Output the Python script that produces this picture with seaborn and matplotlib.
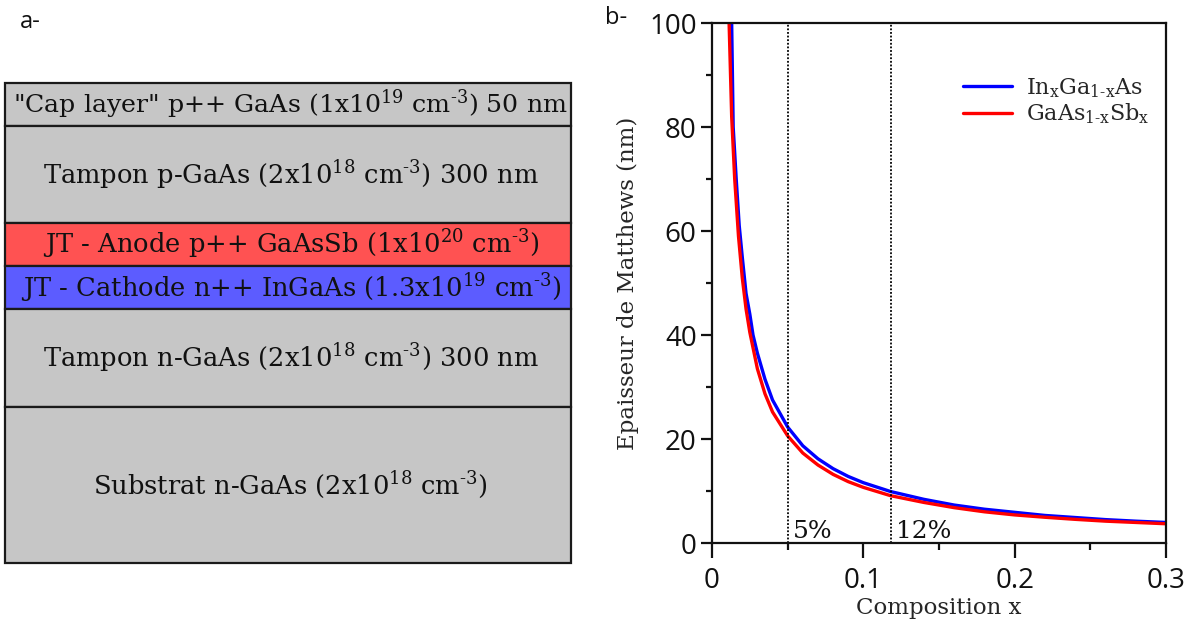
import numpy as np
import pandas as pd
import matplotlib
matplotlib.use("Agg")
import matplotlib.pyplot as plt
import seaborn as sns
from matplotlib.ticker import MultipleLocator, FuncFormatter
from matplotlib.lines import Line2D

# ---------------- data ----------------
# Panel a: epitaxial layer stack (top to bottom), drawn thickness in arbitrary units
layer_labels = [
    '"Cap layer" p++ GaAs (1x10$^{19}$ cm$^{\\text{-3}}$) 50 nm',
    'Tampon p-GaAs (2x10$^{18}$ cm$^{\\text{-3}}$) 300 nm',
    'JT - Anode p++ GaAsSb (1x10$^{20}$ cm$^{\\text{-3}}$)',
    'JT - Cathode n++ InGaAs (1.3x10$^{19}$ cm$^{\\text{-3}}$)',
    'Tampon n-GaAs (2x10$^{18}$ cm$^{\\text{-3}}$) 300 nm',
    'Substrat n-GaAs (2x10$^{18}$ cm$^{\\text{-3}}$)',
]
layer_heights = [43, 97, 43, 43, 98, 156]
layer_colors = ["#c6c6c6", "#c6c6c6", "#ff5252", "#5c5cff", "#c6c6c6", "#c6c6c6"]

# Panel b: Matthews critical thickness (nm) vs composition x
x_ingaas = [0.0130, 0.0140, 0.016, 0.018, 0.020, 0.0225, 0.025, 0.0271, 0.030, 0.035,
            0.040, 0.050, 0.060, 0.070, 0.080, 0.090, 0.100, 0.118, 0.140, 0.160,
            0.180, 0.200, 0.220, 0.240, 0.260, 0.280, 0.300]
h_ingaas = [100, 80, 70, 61, 55, 48, 44, 40, 36.5, 31.5,
            27.5, 22.3, 18.7, 16.2, 14.3, 12.8, 11.6, 9.9, 8.4, 7.3,
            6.5, 5.9, 5.3, 4.9, 4.5, 4.2, 3.95]
x_gaassb = [0.0113, 0.013, 0.015, 0.0175, 0.020, 0.0225, 0.025, 0.030, 0.035, 0.040,
            0.050, 0.060, 0.070, 0.080, 0.090, 0.100, 0.118, 0.140, 0.160, 0.180,
            0.200, 0.220, 0.240, 0.260, 0.280, 0.300]
h_gaassb = [100, 82, 70, 59, 51, 45, 40.5, 33.5, 28.7, 25.2,
            20.6, 17.3, 15.0, 13.2, 11.8, 10.7, 9.1, 7.8, 6.8, 6.0,
            5.4, 4.95, 4.55, 4.2, 3.95, 3.7]
series_names = ["In$_\\mathrm{x}$Ga$_\\mathrm{1\\text{-}x}$As", "GaAs$_\\mathrm{1\\text{-}x}$Sb$_\\mathrm{x}$"]
series_colors = ["#0000ff", "#ff0000"]
limit_x = [0.05, 0.118]
limit_labels = ["5%", "12%"]

# ---------------- style ----------------
sns.set_theme(style="ticks")
SERIF = "DejaVu Serif"
SANS = "Open Sans"
plt.rcParams.update({
    "font.family": [SANS, "DejaVu Sans"],
    "mathtext.fontset": "custom",
    "mathtext.rm": SERIF,
    "mathtext.it": SERIF + ":italic",
    "mathtext.bf": SERIF + ":bold",
    "axes.linewidth": 1.6,
    "axes.edgecolor": "#111111",
})

W, H = 1194, 628
fig = plt.figure(figsize=(W / 100, H / 100), dpi=100)


def box(l, t, r, b):
    return [l / W, 1 - b / H, (r - l) / W, (b - t) / H]


# ---------------- panel a ----------------
axa = fig.add_axes(box(5, 83, 571, 563))
bottoms = np.concatenate([[0], np.cumsum(layer_heights)[:-1]])
total = float(np.sum(layer_heights))
axa.bar(np.zeros(len(layer_heights)), layer_heights, bottom=bottoms, width=1.0,
        color=layer_colors, edgecolor="#1a1a1a", linewidth=1.6, clip_on=False)
axa.set_xlim(-0.5, 0.5)
axa.set_ylim(total, 0)
axa.axis("off")
renderer = fig.canvas.get_renderer()
box_px = axa.get_window_extent(renderer).width
for lab, b, h in zip(layer_labels, bottoms, layer_heights):
    t = axa.text(0.005, b + h / 2, lab, ha="center", va="center", fontsize=18.5,
                 family=SERIF, color="#111111")
    w = t.get_window_extent(renderer).width
    if w > box_px - 10:
        t.set_fontsize(18.5 * (box_px - 10) / w)

fig.text(20 / W, 1 - 22 / H, "a-", ha="left", va="center", fontsize=17, color="#111111")
fig.text(605 / W, 1 - 18 / H, "b-", ha="left", va="center", fontsize=17, color="#111111")

# ---------------- panel b ----------------
axb = fig.add_axes(box(712, 23, 1166, 543))
df = pd.concat([
    pd.DataFrame({"x": x_ingaas, "h": h_ingaas, "serie": series_names[0]}),
    pd.DataFrame({"x": x_gaassb, "h": h_gaassb, "serie": series_names[1]}),
])
sns.lineplot(data=df, x="x", y="h", hue="serie", palette=series_colors,
             estimator=None, sort=True, linewidth=2.4, ax=axb, legend=False)

for xv, lab in zip(limit_x, limit_labels):
    axb.axvline(xv, color="black", linestyle=(0, (1, 1)), linewidth=1.3)
    axb.text(xv + 0.0037, 1.0, lab, ha="left", va="baseline", fontsize=18,
             family=SERIF, color="#111111")

axb.set_xlim(0, 0.3)
axb.set_ylim(0, 100)
axb.xaxis.set_major_locator(MultipleLocator(0.1))
axb.xaxis.set_minor_locator(MultipleLocator(0.05))
axb.yaxis.set_major_locator(MultipleLocator(20))
axb.yaxis.set_minor_locator(MultipleLocator(10))
axb.xaxis.set_major_formatter(FuncFormatter(lambda v, p: "0" if abs(v) < 1e-9 else f"{v:.1f}"))
axb.yaxis.set_major_formatter(FuncFormatter(lambda v, p: f"{v:.0f}"))
axb.tick_params(axis="both", which="both", direction="out", width=1.6, colors="#111111",
                labelsize=20)
axb.tick_params(axis="y", which="major", length=8, pad=3)
axb.tick_params(axis="y", which="minor", length=4)
axb.tick_params(axis="x", which="major", length=11, pad=6)
axb.tick_params(axis="x", which="minor", length=5)
for s in axb.spines.values():
    s.set_visible(True)
    s.set_linewidth(1.6)

axb.set_xlabel("Composition x", family=SERIF, fontsize=16.5, va="center")
axb.xaxis.set_label_coords(0.5, (543 - 608) / 520)
axb.set_ylabel("Epaisseur de Matthews (nm)", family=SERIF, fontsize=16.5, va="center")
axb.yaxis.set_label_coords((628 - 712) / 454, 0.5)

handles = [Line2D([], [], color=c, linewidth=2.4) for c in series_colors]
axb.legend(handles, series_names, loc="upper left", bbox_to_anchor=(0.553, 0.898),
           frameon=False, borderpad=0, borderaxespad=0, handlelength=2.2,
           handletextpad=0.65, labelspacing=0.08,
           prop={"family": SERIF, "size": 16})

fig.savefig("out.png", dpi=100)
